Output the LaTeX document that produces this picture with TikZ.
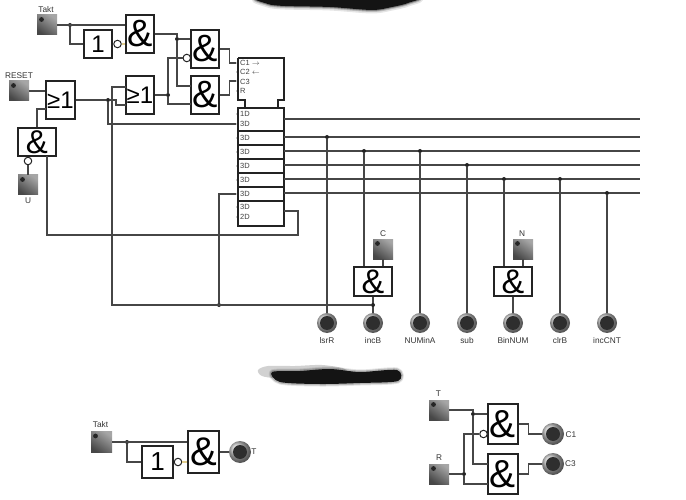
\documentclass[tikz,border=0pt]{standalone}
\usepackage{fontspec}
\setmainfont{Liberation Sans}
\usetikzlibrary{calc,shapes.geometric}
\definecolor{wiregray}{RGB}{70, 70, 70}
\definecolor{edgedark}{RGB}{35, 35, 35}
\definecolor{stuborange}{RGB}{225, 205, 140}
\tikzset{
    wire/.style={line width=1.4pt, draw=wiregray},
    gatebox/.style 2 args={rectangle, draw=edgedark, line width=1.3pt, fill=white, inner sep=0pt, minimum width=#1, minimum height=#2},
    andfont/.style={font=\fontsize{38}{38}\selectfont},
    orfont/.style={font=\fontsize{24}{24}\selectfont},
    bubble/.style={circle, draw=edgedark, line width=1pt, fill=white, inner sep=0pt, minimum size=7.5pt},
    dotnode/.style={circle, fill=edgedark, inner sep=0pt, minimum size=4pt},
    pindot/.style={circle, fill=edgedark, inner sep=0pt, minimum size=2.2pt},
    pintext/.style={anchor=west, inner sep=0pt, font=\fontsize{7.5}{8}\selectfont, text=black!75},
    siglabel/.style={inner sep=0pt, font=\fontsize{8.3}{9}\selectfont, text=black!80},
    inkey/.style={rectangle, inner sep=0pt, minimum size=#1, top color=black!35, bottom color=black!72, shading angle=-35,
        path picture={\fill[black!85] ([xshift=4.5pt,yshift=-4.5pt]path picture bounding box.north west) circle (2.4);}},
    inkey/.default=20pt,
    lamp/.style={circle, inner sep=0pt, minimum size=#1, ball color=black!25,
        path picture={\fill[black!82] (path picture bounding box.center) circle (7);}},
    lamp/.default=20pt
}

\begin{document}
\begin{tikzpicture}[x=1pt, y=-1pt]
    \useasboundingbox (0, 0) rectangle (686, 500);

    % Smudges
    \begin{scope}
        \clip (0, 0) rectangle (686, 500);
        \foreach \w/\o in {7/0.10, 4/0.18, 2/0.30}
            \draw[line width=\w pt, opacity=\o, black, line join=round] plot[smooth cycle] coordinates {(263,-3) (268,4) (285,6) (330,7) (372,10) (392,7) (408,3) (411,-3)};
        \fill[black!92] plot[smooth cycle] coordinates {(263,-3) (268,4) (285,6) (330,7) (372,10) (392,7) (408,3) (411,-3)};
    \end{scope}
    \fill[black!30, opacity=0.6] plot[smooth cycle] coordinates {(258,370) (268,366) (295,366) (322,365) (345,369) (340,376) (280,378) (262,376)};
    \foreach \w/\o in {5/0.10, 3/0.20}
        \draw[line width=\w pt, opacity=\o, black, line join=round] plot[smooth cycle] coordinates {(272,372) (300,371) (330,369) (360,372) (397,370) (398,381) (360,383) (320,384) (280,382)};
    \fill[black!92] plot[smooth cycle] coordinates {(272,372) (300,371) (330,369) (360,372) (397,370) (398,381) (360,383) (320,384) (280,382)};

    % Inputs, upper part
    \node[inkey] (takt) at (47, 25) {};
    \node[siglabel] (taktlab) at (46, 10) {Takt};
    \node[inkey] (reset) at (19, 91) {};
    \node[siglabel] (resetlab) at (19, 76) {RESET};
    \node[inkey] (uin) at (28, 185) {};
    \node[siglabel] (ulab) at (28, 201) {U};

    % Gates, upper part
    \node[gatebox={28pt}{38pt}, andfont] (and1) at (140, 34) {\&};
    \node[gatebox={28pt}{28pt}, orfont] (not1) at (98, 44) {1};
    \node[bubble] (bub1) at (117.5, 44) {};
    \node[gatebox={28pt}{38pt}, andfont] (and2) at (205, 49) {\&};
    \node[bubble] (bub2) at (186.8, 58) {};
    \node[gatebox={28pt}{38pt}, andfont] (and3) at (205, 95) {\&};
    \node[gatebox={28pt}{38pt}, orfont] (or2) at (140, 95) {≥1};
    \node[gatebox={29pt}{38pt}, orfont] (or1) at (60.5, 100) {≥1};
    \node[gatebox={38pt}{28pt}, font=\fontsize{33}{33}\selectfont] (andu) at (37, 142) {\&};
    \node[bubble] (bubu) at (28, 161) {};

    % Register
    \draw[line width=1.3pt, edgedark] (238, 58) -- (284, 58) -- (284, 100) -- (278, 100) -- (278, 108)
        (238, 58) -- (238, 100) -- (245, 100) -- (245, 108);
    \node[gatebox={46pt}{23pt}] (regtop) at (261, 119.5) {};
    \foreach \y in {138, 152, 166, 180, 194}
        \node[gatebox={46pt}{14pt}] (cell\y) at (261, \y) {};
    \node[gatebox={46pt}{25pt}] (regbot) at (261, 213.5) {};
    \node[pintext] (c1txt) at (240, 63) {C1 $\rightarrow$};
    \node[pintext] (c2txt) at (240, 72) {C2 $\leftarrow$};
    \node[pintext] (c3txt) at (240, 81.5) {C3};
    \node[pintext] (rtxt) at (240, 91) {R};
    \foreach \y/\t in {114/1D, 124/3D, 138/3D, 152/3D, 166/3D, 180/3D, 194/3D, 207/3D, 217/2D}
        \node[pintext] (txt\y) at (240, \y) {\t};
    \foreach \y in {63, 72, 81, 91, 114, 124, 138, 152, 166, 180, 194, 207, 217}
        \node[pindot] (pin\y) at (237.5, \y) {};

    % Outputs
    \foreach \n/\x/\t in {lsrr/327/lsrR, incb/373/incB, numina/420/NUMinA, sub/467/sub, binnum/513/BinNUM, clrb/560/clrB, inccnt/607/incCNT} {
        \node[lamp] (o\n) at (\x, 323) {};
        \node[siglabel] (l\n) at (\x, 341) {\t};
    }

    % Bus
    \foreach \y in {119, 137, 151, 165, 179, 193} {
        \coordinate (busa\y) at (284, \y);
        \coordinate (busb\y) at (640, \y);
        \draw[wire] (busa\y) -- (busb\y);
    }
    \foreach \n/\x/\y in {lsrr/327/137, numina/420/151, sub/467/165, clrb/560/179, inccnt/607/193} {
        \node[dotnode] (j\n) at (\x, \y) {};
        \draw[wire] (j\n) -- (o\n.north);
    }

    % Gates at the bus
    \node[gatebox={38pt}{29pt}, font=\fontsize{34}{34}\selectfont] (andc) at (373, 281.5) {\&};
    \node[gatebox={38pt}{29pt}, font=\fontsize{34}{34}\selectfont] (andn) at (513, 281.5) {\&};
    \node[inkey] (cin) at (383, 249) {};
    \node[siglabel] (clab) at (383, 234) {C};
    \node[inkey] (nin) at (523, 249) {};
    \node[siglabel] (nlab) at (522, 233.5) {N};
    \node[dotnode] (jc) at (364, 151) {};
    \node[dotnode] (jn) at (504, 179) {};
    \draw[wire] (jc) -- (jc |- andc.north);
    \draw[wire] (jn) -- (jn |- andn.north);
    \draw[wire] (cin.south) -- (cin.south |- andc.north);
    \draw[wire] (nin.south) -- (nin.south |- andn.north);
    \draw[wire] (andc.south) -- (oincb.north);
    \draw[wire] (andn.south) -- (obinnum.north);

    % Wires, upper part
    \node[dotnode] (jt) at (70, 25) {};
    \draw[wire] (takt.east) -- (and1.west |- takt);
    \draw[wire] (jt) |- (not1.west);
    \draw[wire, draw=stuborange] (bub1.east) -- (bub1 -| and1.west);
    \node[dotnode] (ja) at (177, 39) {};
    \coordinate (and3a) at (191, 86);
    \coordinate (and3b) at (191, 104);
    \draw[wire] (and1.east) -| (ja) -- (and2.west |- ja);
    \draw[wire] (ja) |- (and3a);
    \node[dotnode] (jo) at (168, 95) {};
    \draw[wire] (or2.east) -- (jo);
    \draw[wire] (jo) |- (bub2.west);
    \draw[wire] (jo) |- (and3b);
    \draw[wire] (and2.east) -- ++(10, 0) |- (pin63);
    \draw[wire] (and3.east) -- ++(10, 0) |- (pin81);
    \draw[wire] (reset.east) -- (or1.west |- reset);
    \node[dotnode] (jr) at (108, 100) {};
    \coordinate (or2b) at (126, 105);
    \coordinate (or2a) at (126, 87);
    \draw[wire] (or1.east) -- (jr) -- ++(8, 0) |- (or2b);
    \draw[wire] (jr) |- (pin124);
    \coordinate (or1b) at (46, 109);
    \draw[wire] (andu.north) |- (or1b);
    \draw[wire] (uin.north) -- (bubu.south);
    \coordinate (andub) at (47, 156);
    \coordinate (fback) at (298, 235);
    \coordinate (regout) at (284, 211);
    \draw[wire] (andub) |- (fback) |- (regout);
    \coordinate (corner) at (112, 305);
    \node[dotnode] (jb) at (219, 305) {};
    \node[dotnode] (jd) at (373, 305) {};
    \draw[wire] (or2a) -| (corner) -- (jd);
    \draw[wire] (jb) |- (pin194);

    % Lower left
    \node[inkey=21pt] (takt2) at (101.5, 442) {};
    \node[siglabel] (takt2lab) at (100.5, 425) {Takt};
    \node[gatebox={31pt}{42pt}, font=\fontsize{40}{40}\selectfont] (and4) at (203.5, 452) {\&};
    \node[gatebox={31pt}{32pt}, font=\fontsize{26}{26}\selectfont] (not2) at (157.5, 462) {1};
    \node[bubble] (bub3) at (178, 462) {};
    \node[lamp=22pt] (tout) at (240, 452) {};
    \node[siglabel] (tlab) at (254, 452) {T};
    \node[dotnode] (jk) at (127, 442) {};
    \draw[wire] (takt2.east) -- (and4.west |- takt2);
    \draw[wire] (jk) |- (not2.west);
    \draw[wire, draw=stuborange] (bub3.east) -- (bub3 -| and4.west);
    \draw[wire] (and4.east) -- (tout.west);

    % Lower right
    \node[inkey] (tin) at (439, 410) {};
    \node[siglabel] (tinlab) at (438.5, 393.5) {T};
    \node[inkey] (rin) at (439, 474) {};
    \node[siglabel] (rinlab) at (439, 458) {R};
    \node[gatebox={30pt}{40pt}, font=\fontsize{39}{39}\selectfont] (and5) at (503, 424) {\&};
    \node[gatebox={30pt}{40pt}, font=\fontsize{39}{39}\selectfont] (and6) at (503, 474) {\&};
    \node[bubble] (bub4) at (483.5, 434) {};
    \node[lamp=22pt] (c1out) at (553, 434) {};
    \node[lamp=22pt] (c3out) at (553, 464) {};
    \node[siglabel] (c1lab) at (571, 435) {C1};
    \node[siglabel] (c3lab) at (570.5, 464) {C3};
    \node[dotnode] (jp) at (473, 414) {};
    \node[dotnode] (jq) at (464, 474) {};
    \coordinate (and6a) at (488, 464);
    \coordinate (and6b) at (488, 484);
    \draw[wire] (tin.east) -| (jp) -- (and5.west |- jp);
    \draw[wire] (jp) |- (and6a);
    \draw[wire] (rin.east) -- (jq);
    \draw[wire] (jq) |- (bub4.west);
    \draw[wire] (jq) |- (and6b);
    \draw[wire] (and5.east) -- ++(10, 0) |- (c1out.west);
    \draw[wire] (and6.east) -- ++(10, 0) |- (c3out.west);
\end{tikzpicture}
\end{document}
